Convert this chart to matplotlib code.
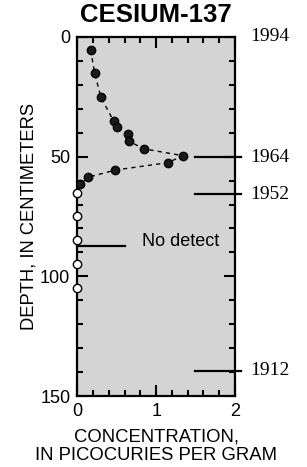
import matplotlib
matplotlib.use("Agg")
import matplotlib.pyplot as plt
from matplotlib.ticker import MultipleLocator

plt.rcParams['font.family'] = ['Liberation Sans', 'DejaVu Sans']

# detected Cs-137 (depth in cm, concentration in pCi/g)
det_depth = [5.4, 15.2, 25.2, 35.1, 37.7, 40.4, 43.6, 46.7, 49.6, 52.5, 55.6, 58.6, 61.6]
det_conc = [0.17, 0.22, 0.30, 0.46, 0.50, 0.64, 0.66, 0.84, 1.34, 1.15, 0.48, 0.14, 0.04]

# samples with no detection
nd_depth = [65.2, 74.8, 84.8, 94.9, 104.8]
nd_conc = [0, 0, 0, 0, 0]

# date markers on the right
years = ["1994", "1964", "1952", "1912"]
year_depth = [0, 50.3, 65.6, 139.4]
year_line = [False, True, True, True]

fig = plt.figure(figsize=(3.07, 4.67), dpi=100)
ax = fig.add_axes([0.2518, 0.152, 0.5137, 0.7688])
ax.set_facecolor('#d4d4d4')

ax.plot(det_conc, det_depth, linestyle=(0, (3, 3)), color='black', lw=1.0,
        marker='o', markersize=6, markerfacecolor='#1a1a1a',
        markeredgecolor='black', zorder=3)
ax.plot(nd_conc, nd_depth, linestyle='none', marker='o', markersize=6,
        markerfacecolor='white', markeredgecolor='black', clip_on=False, zorder=4)

ax.set_xlim(0, 2)
ax.set_ylim(150, 0)

ax.xaxis.set_major_locator(MultipleLocator(1))
ax.xaxis.set_minor_locator(MultipleLocator(0.2))
ax.yaxis.set_major_locator(MultipleLocator(50))
ax.yaxis.set_minor_locator(MultipleLocator(10))
ax.tick_params(which='both', direction='in', top=True, right=True, width=1.5,
               labelsize=13, pad=5)
ax.tick_params(which='major', length=8)
ax.tick_params(which='minor', length=4)
for s in ax.spines.values():
    s.set_linewidth(1.6)

# no-detect marker
ax.plot([0, 0.61], [87.2, 87.2], color='black', lw=1.6, clip_on=False)
ax.text(0.82, 85.5, "No detect", fontsize=13, va='center', ha='left')

for yr, d, has_line in zip(years, year_depth, year_line):
    if has_line:
        ax.plot([1.49, 2.07], [d, d], color='black', lw=1.6, clip_on=False)
    ax.text(2.19, d, yr, fontsize=14, va='center', ha='left',
            family='Liberation Serif')

ax.set_title("CESIUM-137", fontsize=18.5, fontweight='bold', pad=11)
ax.set_ylabel("DEPTH, IN CENTIMETERS", fontsize=13.2)
ax.yaxis.set_label_coords(-0.25, 0.5)
ax.set_xlabel("CONCENTRATION,\nIN PICOCURIES PER GRAM", fontsize=13.3,
              labelpad=6, linespacing=1.15)

fig.savefig("out.png", dpi=100)
